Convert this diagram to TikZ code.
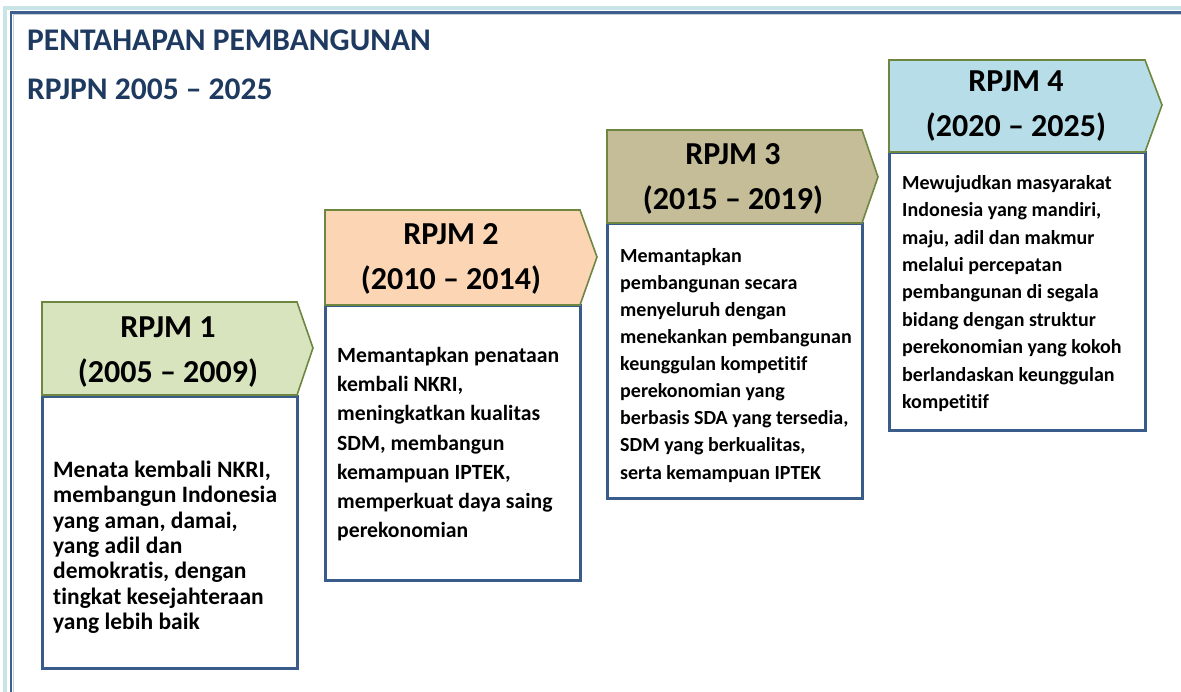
\documentclass[tikz,border=0pt]{standalone}
\usepackage{fontspec}
\setmainfont{Carlito}[BoldFont={Carlito Bold}, Ligatures=CommonOff]
\definecolor{titleblue}{RGB}{31,58,96}
\definecolor{framecyan}{RGB}{200,228,230}
\definecolor{frameblue}{RGB}{62,94,140}
\definecolor{boxblue}{RGB}{58,92,138}
\definecolor{olive}{RGB}{110,134,64}
\definecolor{hgreen}{RGB}{215,228,189}
\definecolor{hpeach}{RGB}{252,213,181}
\definecolor{htan}{RGB}{196,189,151}
\definecolor{hblue}{RGB}{183,222,232}
\tikzset{
  hdr/.style={draw=olive, line width=1.6pt, line join=miter},
  bodyline/.style={draw=boxblue, line width=3pt, fill=white},
  hdrtext/.style={font=\bfseries\fontsize{32}{45}\selectfont, align=center, inner sep=0pt},
  bodytext/.style={font=\bfseries, align=left, anchor=north west, inner sep=0pt},
  titletext/.style={font=\bfseries\fontsize{31.5}{36}\selectfont, text=titleblue, anchor=base west, inner sep=0pt}
}
\begin{document}
\begin{tikzpicture}[x=1pt,y=-1pt]
\useasboundingbox (0,0) rectangle (1181,691);
% frame
\draw[framecyan, line width=4pt] (5,700) -- (5,7.5) -- (1190,7.5);
\draw[frameblue, line width=2.6pt] (11,700) -- (11,12.5) -- (1190,12.5);
\draw[white!70!frameblue, line width=0.8pt] (13,700) -- (13,14.5) -- (1190,14.5);
% title
\node[titletext] (t1) at (27,50) {PENTAHAPAN PEMBANGUNAN};
\node[titletext] (t2) at (27,99) {RPJPN 2005 -- 2025};
% box 1
\draw[bodyline] (42,396) rectangle (297,668);
\draw[hdr, fill=hgreen] (42,302) -- (297,302) -- (313,348) -- (297,395) -- (42,395) -- cycle;
\node[hdrtext] (h1) at (168,352) {RPJM 1\\(2005 -- 2009)};
\node[bodytext, font=\bfseries\fontsize{23.5}{25.3}\selectfont] (b1) at (53,461)
 {Menata kembali NKRI,\\membangun Indonesia\\yang aman, damai,\\yang adil dan\\demokratis, dengan\\tingkat kesejahteraan\\yang lebih baik};
% box 2
\draw[bodyline] (325,305) rectangle (580,580);
\draw[hdr, fill=hpeach] (325,210) -- (580,210) -- (597,257) -- (580,305) -- (325,305) -- cycle;
\node[hdrtext] (h2) at (451,259) {RPJM 2\\(2010 -- 2014)};
\node[bodytext, font=\bfseries\fontsize{21.7}{29.2}\selectfont] (b2) at (337,347)
 {Memantapkan penataan\\kembali NKRI,\\meningkatkan kualitas\\SDM, membangun\\kemampuan IPTEK,\\memperkuat daya saing\\perekonomian};
% box 3
\draw[bodyline] (607,223) rectangle (862,498);
\draw[hdr, fill=htan] (607,130) -- (862,130) -- (878,177) -- (862,223) -- (607,223) -- cycle;
\node[hdrtext] (h3) at (733,179) {RPJM 3\\(2015 -- 2019)};
\node[bodytext, font=\bfseries\fontsize{20}{27.1}\selectfont] (b3) at (620,248)
 {Memantapkan\\pembangunan secara\\menyeluruh dengan\\menekankan pembangunan\\keunggulan kompetitif\\perekonomian yang\\berbasis SDA yang tersedia,\\SDM yang berkualitas,\\serta kemampuan IPTEK};
% box 4
\draw[bodyline] (889,152) rectangle (1145,430);
\draw[hdr, fill=hblue] (889,60) -- (1145,60) -- (1162,105) -- (1145,152) -- (889,152) -- cycle;
\node[hdrtext] (h4) at (1016,106) {RPJM 4\\(2020 -- 2025)};
\node[bodytext, font=\bfseries\fontsize{20}{27.4}\selectfont] (b4) at (902,175)
 {Mewujudkan masyarakat\\Indonesia yang mandiri,\\maju, adil dan makmur\\melalui percepatan\\pembangunan di segala\\bidang dengan struktur\\perekonomian yang kokoh\\berlandaskan keunggulan\\kompetitif};
\end{tikzpicture}
\end{document}
